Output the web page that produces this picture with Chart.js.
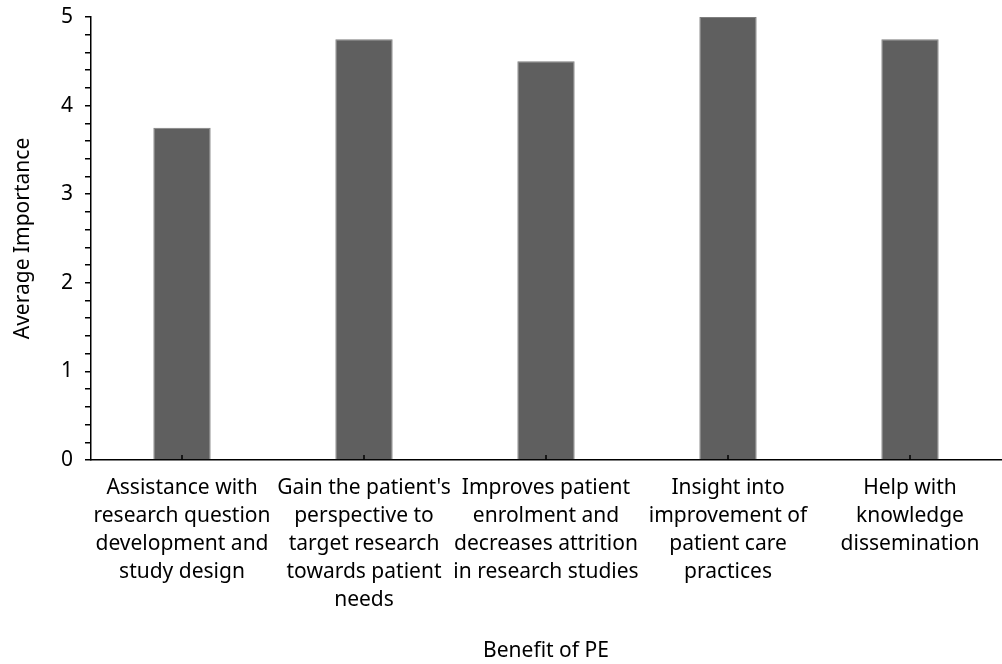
<!DOCTYPE html>
<html lang="en">
<head>
    <meta charset="UTF-8">
    <title>Benefit of PE</title>
    <style>
        body { margin: 0; padding: 0; background: #fff; }
        .chart-container { width: 1002px; height: 664px; }
    </style>
</head>
<body>
    <div class="chart-container">
        <canvas id="peChart"></canvas>
    </div>

    <script src="https://cdn.jsdelivr.net/npm/chart.js"></script>
    <script>
        // Datos del gráfico
        const categories = [
            ["Assistance with", "research question", "development and", "study design"],
            ["Gain the patient's", "perspective to", "target research", "towards patient", "needs"],
            ["Improves patient", "enrolment and", "decreases attrition", "in research studies"],
            ["Insight into", "improvement of", "patient care", "practices"],
            ["Help with", "knowledge", "dissemination"]
        ];
        const averageImportance = [3.75, 4.75, 4.5, 5, 4.75];
        const yMin = 0;
        const yMax = 5;
        const yMinorStep = 0.2;

        const fontFamily = "'Noto Sans', 'Liberation Sans', sans-serif";

        // ticks de categoría hacia dentro, en el centro de cada barra
        const innerTicks = {
            id: 'innerTicks',
            afterDatasetsDraw(chart) {
                const x = chart.scales.x;
                const ctx = chart.ctx;
                ctx.save();
                ctx.strokeStyle = '#000';
                ctx.lineWidth = 1.5;
                x.ticks.forEach((t, i) => {
                    const px = Math.round(x.getPixelForTick(i));
                    ctx.beginPath();
                    ctx.moveTo(px, x.top);
                    ctx.lineTo(px, x.top - 5);
                    ctx.stroke();
                });
                ctx.restore();
            }
        };

        new Chart(document.getElementById('peChart'), {
            type: 'bar',
            data: {
                labels: categories,
                datasets: [{
                    data: averageImportance,
                    backgroundColor: '#5f5f5f',
                    borderColor: '#7f7f7f',
                    borderWidth: 1,
                    categoryPercentage: 1,
                    barPercentage: 0.315
                }]
            },
            options: {
                responsive: true,
                maintainAspectRatio: false,
                animation: false,
                layout: { padding: { top: 17, right: 1, left: 0, bottom: 0 } },
                plugins: {
                    legend: { display: false },
                    tooltip: { enabled: false }
                },
                scales: {
                    x: {
                        grid: { display: false, drawTicks: false },
                        border: { color: '#000', width: 1.5 },
                        ticks: {
                            color: '#000',
                            font: { family: fontFamily, size: 21, lineHeight: '28px' },
                            maxRotation: 0,
                            autoSkip: false,
                            padding: 14
                        },
                        title: {
                            display: true,
                            text: 'Benefit of PE',
                            color: '#000',
                            font: { family: fontFamily, size: 21 },
                            padding: { top: 10, bottom: 0 }
                        },
                        afterFit(scale) { scale.height = 204; }
                    },
                    y: {
                        min: yMin,
                        max: yMax,
                        grid: {
                            drawOnChartArea: false,
                            drawTicks: true,
                            tickLength: 6,
                            color: '#000',
                            lineWidth: 1.5
                        },
                        border: { color: '#000', width: 1.5 },
                        ticks: {
                            stepSize: yMinorStep,
                            autoSkip: false,
                            color: '#000',
                            font: { family: fontFamily, size: 21 },
                            padding: 12,
                            callback: (v) => Math.abs(v - Math.round(v)) < 1e-6 ? Math.round(v) : ''
                        },
                        title: {
                            display: true,
                            text: 'Average Importance',
                            color: '#000',
                            font: { family: fontFamily, size: 21 },
                            padding: { top: 10, bottom: 0 }
                        },
                        afterFit(scale) {
                            scale.width = 91;
                            // el "5" puede sobresalir por arriba
                            scale.paddingTop = 0;
                            scale.paddingBottom = 0;
                        }
                    }
                }
            },
            plugins: [innerTicks]
        });
    </script>
</body>
</html>
